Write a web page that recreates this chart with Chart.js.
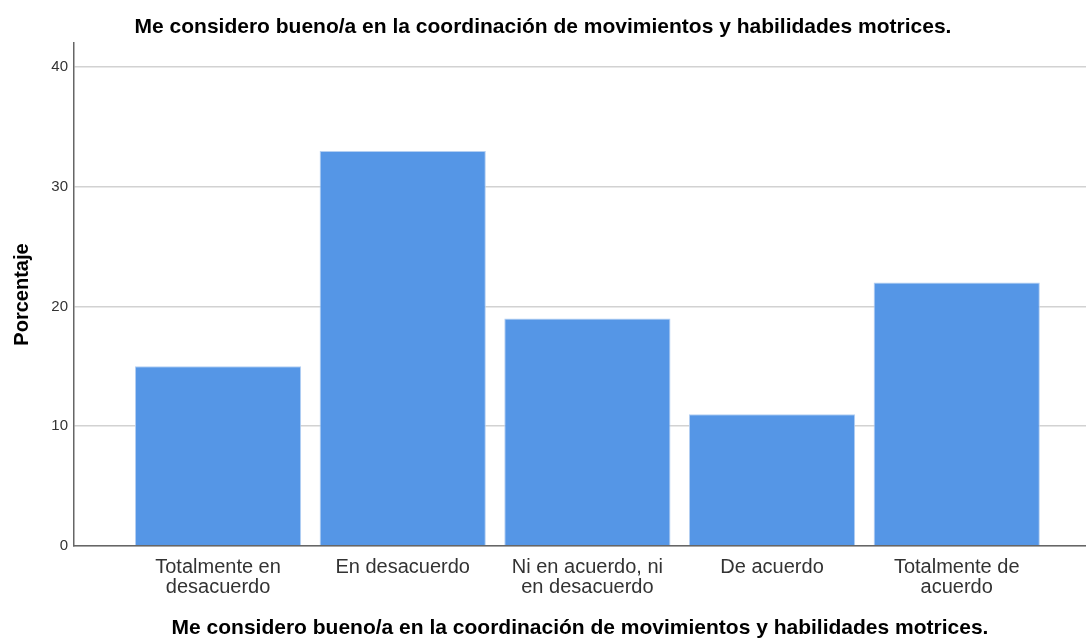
<!DOCTYPE html>
<html>
<head>
<meta charset="utf-8">
<script src="https://cdn.jsdelivr.net/npm/chart.js@4/dist/chart.umd.min.js"></script>
<style>
  html, body { margin: 0; padding: 0; background: #fff; }
  #wrap { width: 1086px; height: 642px; }
</style>
</head>
<body>
<div id="wrap"><canvas id="chart1"></canvas></div>
<script>
const categories = [
  ["Totalmente en", "desacuerdo"],
  ["En desacuerdo"],
  ["Ni en acuerdo, ni", "en desacuerdo"],
  ["De acuerdo"],
  ["Totalmente de", "acuerdo"],
];
const percentages = [15, 33, 19, 11, 22];
const yTicks = [0, 10, 20, 30, 40];
const titleText = "Me considero bueno/a en la coordinación de movimientos y habilidades motrices.";

const fontFam = "Liberation Sans, Arial, sans-serif";

document.addEventListener("DOMContentLoaded", () => {
  new Chart(document.getElementById("chart1"), {
    type: "bar",
    data: {
      datasets: [
        {
          data: percentages.map((v, i) => ({ x: i, y: v })),
          backgroundColor: "#5596e6",
          borderColor: "#b4cff2",
          borderWidth: 1,
          barPercentage: 0.9,
          categoryPercentage: 1,
        },
      ],
    },
    options: {
      responsive: true,
      maintainAspectRatio: false,
      animation: false,
      layout: { padding: 0 },
      plugins: {
        legend: { display: false },
        tooltip: { enabled: false },
        title: {
          display: true,
          text: titleText,
          color: "#000",
          font: { family: fontFam, size: 21, weight: "bold", lineHeight: 1.2 },
          padding: { top: 15, bottom: 3 },
        },
      },
      scales: {
        x: {
          type: "linear",
          offset: false,
          min: -0.78,
          max: 4.7,
          afterBuildTicks: (axis) => {
            axis.ticks = categories.map((c, i) => ({ value: i }));
          },
          ticks: {
            autoSkip: false,
            maxRotation: 0,
            color: "#333",
            font: { family: fontFam, size: 20, lineHeight: 1.0 },
            padding: 12,
            callback: (v) => categories[v],
          },
          grid: { display: false, drawTicks: false },
          border: { display: true, color: "#666", width: 1.5 },
          title: {
            display: true,
            text: titleText,
            color: "#000",
            font: { family: fontFam, size: 21, weight: "bold", lineHeight: 1.2 },
            padding: { top: 6, bottom: 1 },
          },
        },
        y: {
          min: 0,
          max: 42,
          afterBuildTicks: (axis) => {
            axis.ticks = yTicks.map((v) => ({ value: v }));
          },
          afterFit: (axis) => {
            axis.width = 74;
          },
          ticks: {
            color: "#333",
            font: { family: fontFam, size: 15 },
            padding: 6,
          },
          grid: { color: "#d2d2d2", lineWidth: 1.5, drawTicks: false },
          border: { display: true, color: "#666", width: 1.5 },
          title: {
            display: true,
            text: "Porcentaje",
            color: "#000",
            font: { family: fontFam, size: 20, weight: "bold" },
            padding: { top: 10, bottom: 0 },
          },
        },
      },
    },
  });
});
</script>
</body>
</html>
